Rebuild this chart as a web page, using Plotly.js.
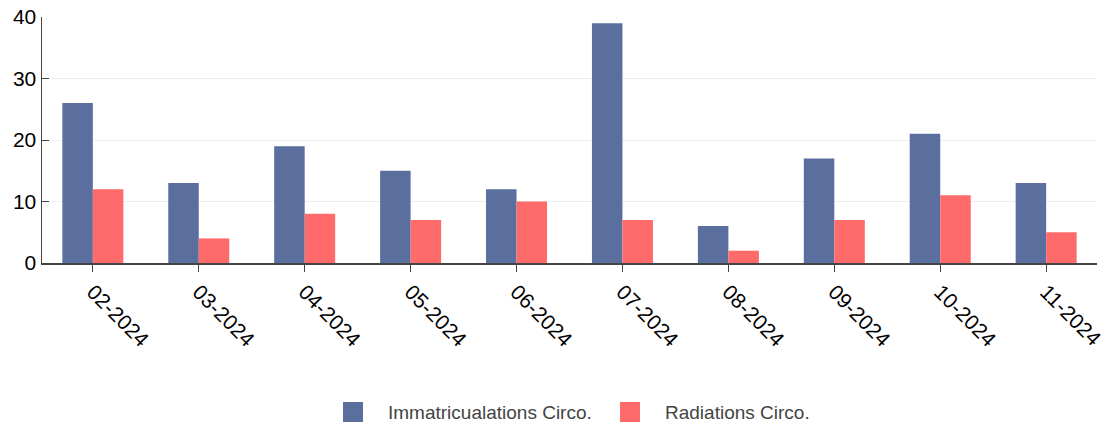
<!DOCTYPE html>
<html>
<head>
<meta charset="utf-8">
<script src="https://cdn.plot.ly/plotly-3.0.1.min.js"></script>
<style>html,body{margin:0;padding:0;background:#fff;}#chart{width:1108px;height:428px;}</style>
</head>
<body>
<div id="chart"></div>
<script>
const months = ["02-2024","03-2024","04-2024","05-2024","06-2024","07-2024","08-2024","09-2024","10-2024","11-2024"];
const immatriculations = [26,13,19,15,12,39,6,17,21,13];
const radiations = [12,4,8,7,10,7,2,7,11,5];
const seriesNames = ["Immatricualations Circo.","Radiations Circo."];
const seriesColors = ["#5b6f9e","#ff6b6b"];

const W = 1108, H = 428;
const M = {l:42, r:11, t:17, b:165};
const pw = W - M.l - M.r, ph = H - M.t - M.b;
const px2x = p => (p - M.l) / pw;
const px2y = p => (H - M.b - p) / ph;

const data = [
  {type:"bar", x:months, y:immatriculations, name:seriesNames[0], marker:{color:seriesColors[0]}},
  {type:"bar", x:months, y:radiations, name:seriesNames[1], marker:{color:seriesColors[1]}}
];

// manual legend (large square swatches)
const legendItems = [{sx:343, tx:386}, {sx:620, tx:663}];
const shapes = [], annotations = [];
legendItems.forEach((it, i) => {
  shapes.push({type:"rect", xref:"paper", yref:"paper",
    x0:px2x(it.sx), x1:px2x(it.sx+20), y0:px2y(422), y1:px2y(402),
    fillcolor:seriesColors[i], line:{width:0}});
  annotations.push({xref:"paper", yref:"paper", x:px2x(it.tx), y:px2y(412),
    xanchor:"left", yanchor:"middle", showarrow:false, text:seriesNames[i],
    font:{size:19, color:"#444"}});
});

const layout = {
  width:W, height:H,
  margin:M,
  barmode:"group", bargap:0.424, bargroupgap:0,
  paper_bgcolor:"#fff", plot_bgcolor:"#fff",
  font:{family:"Liberation Sans, Arial, sans-serif", color:"#000", size:21},
  xaxis:{type:"category", range:[-0.48, 9.48], tickangle:45, ticks:"outside", ticklen:7, tickcolor:"#444",
         showline:true, linecolor:"#444", linewidth:1.5, showgrid:false, automargin:false,
         tickfont:{size:21, color:"#000"}},
  yaxis:{range:[0,40], tickvals:[0,10,20,30,40], ticks:"inside", ticklen:7, tickcolor:"#444",
         showline:true, linecolor:"#444", linewidth:1.5, gridcolor:"#eeeeee", zeroline:false,
         automargin:false, tickfont:{size:21, color:"#000"}},
  showlegend:false,
  shapes:shapes, annotations:annotations
};
Plotly.newPlot("chart", data, layout, {staticPlot:true});
</script>
</body>
</html>
